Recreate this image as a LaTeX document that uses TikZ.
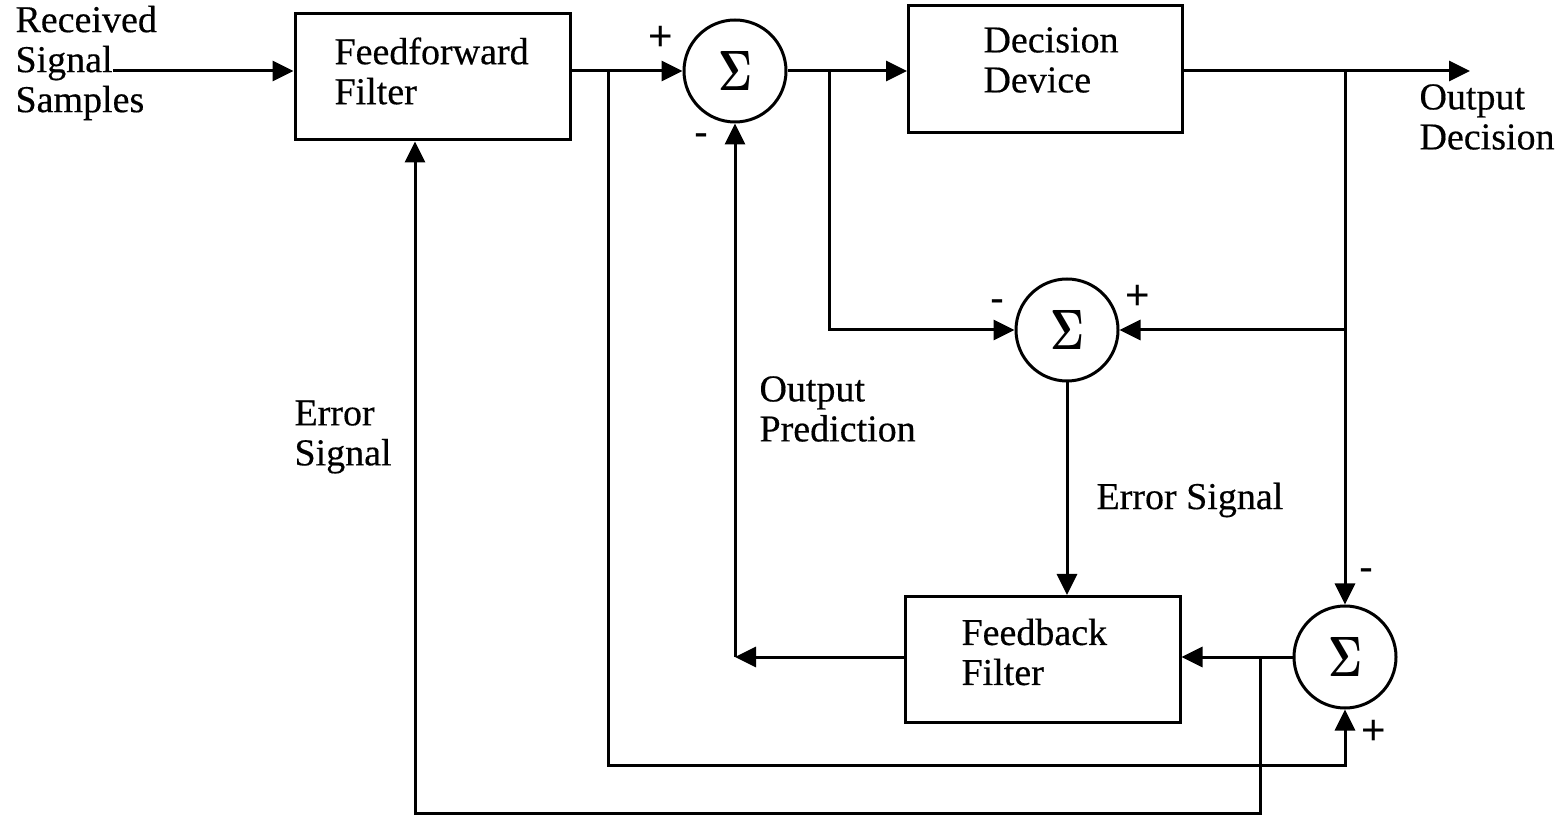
\documentclass[tikz,border=0pt]{standalone}
\usepackage{graphicx}
\usepackage{fontspec}
\setmainfont{Liberation Serif}[FakeBold=0.4]
\newfontfamily\signfont{Liberation Sans}
\usetikzlibrary{arrows.meta}
\newcommand{\sumsym}{\resizebox{17pt}{19.5pt}{\usefont{OT1}{cmr}{bx}{n}\char6}}
\begin{document}
\begin{tikzpicture}[x=0.5pt,y=-0.5pt,
  line width=1.5pt,
  arr/.style={-{Triangle[length=10.5pt,width=10pt]}},
  blk/.style={draw,rectangle,minimum width=137.5pt,minimum height=63pt,inner sep=0pt},
  sum/.style={draw,circle,minimum size=51pt,inner sep=0pt},
  txt/.style={align=left,inner sep=0pt,font=\fontsize{19}{20}\selectfont},
  sgn/.style={inner sep=0pt,font=\signfont\fontsize{21}{21}\selectfont}]
\useasboundingbox (0,0) rectangle (1563,817);
% blocks
\node[blk] (ff) at (432.5,77) {};
\node[txt,anchor=west] (fft) at (333,71) {Feedforward\\Filter};
\node[sum] (s1) at (735,71) {\sumsym};
\node[blk,minimum width=137pt,minimum height=63.5pt] (dd) at (1045.5,69) {};
\node[txt,anchor=west] (ddt) at (982,60) {Decision\\Device};
\node[sum] (s2) at (1067,330) {\sumsym};
\node[blk] (fb) at (1042.5,659.5) {};
\node[txt,anchor=west] (fbt) at (960,652) {Feedback\\Filter};
\node[sum] (s3) at (1345,657) {\sumsym};
% labels
\node[txt,anchor=west] (rx) at (14,63) {Received\\Signal\\Samples};
\node[txt,anchor=west] (op) at (758,409) {Output\\Prediction};
\node[txt,anchor=west] (es) at (1095,500) {Error Signal};
\node[txt,anchor=west] (es2) at (293,437) {Error\\Signal};
\node[txt,anchor=west] (od) at (1418,117) {Output\\Decision};
% signs
\node[sgn] (p1) at (661,38) {+};
\node[sgn] (m1) at (701,140) {-};
\node[sgn] (m2) at (997,306) {-};
\node[sgn] (p2) at (1138,297) {+};
\node[sgn] (m3) at (1366,575) {-};
\node[sgn] (p3) at (1374,732) {+};
% coordinates
\coordinate (inS) at (113,71);
\coordinate (j1) at (608,71);
\coordinate (j2) at (829,71);
\coordinate (j3) at (1345,71);
\coordinate (out) at (1470,71);
\coordinate (b1) at (1345,765);
\coordinate (c1) at (735,657);
\coordinate (j4) at (1260,657);
\coordinate (b2) at (415,813);
% connectors
\draw[arr] (inS) -- (inS -| ff.west);
\draw[arr] (ff.east |- s1.west) -- (s1.west);
\draw[arr] (s1.east) -- (s1.east -| dd.west);
\draw[arr] (dd.east |- s1.east) -- (out);
\draw[arr] (j1) |- (b1) -- (s3.south);
\draw[arr] (j2) |- (s2.west);
\draw[arr] (j3) -- (s3.north);
\draw[arr] (j3 |- s2.east) -- (s2.east);
\draw[arr] (s2.south) -- (s2.south |- fb.north);
\draw[arr] (fb.west |- c1) -- (c1);
\draw[arr] (c1) -- (s1.south);
\draw[arr] (s3.west) -- (s3.west -| fb.east);
\draw[arr] (j4) |- (b2) -- (b2 |- ff.south);
\end{tikzpicture}
\end{document}
